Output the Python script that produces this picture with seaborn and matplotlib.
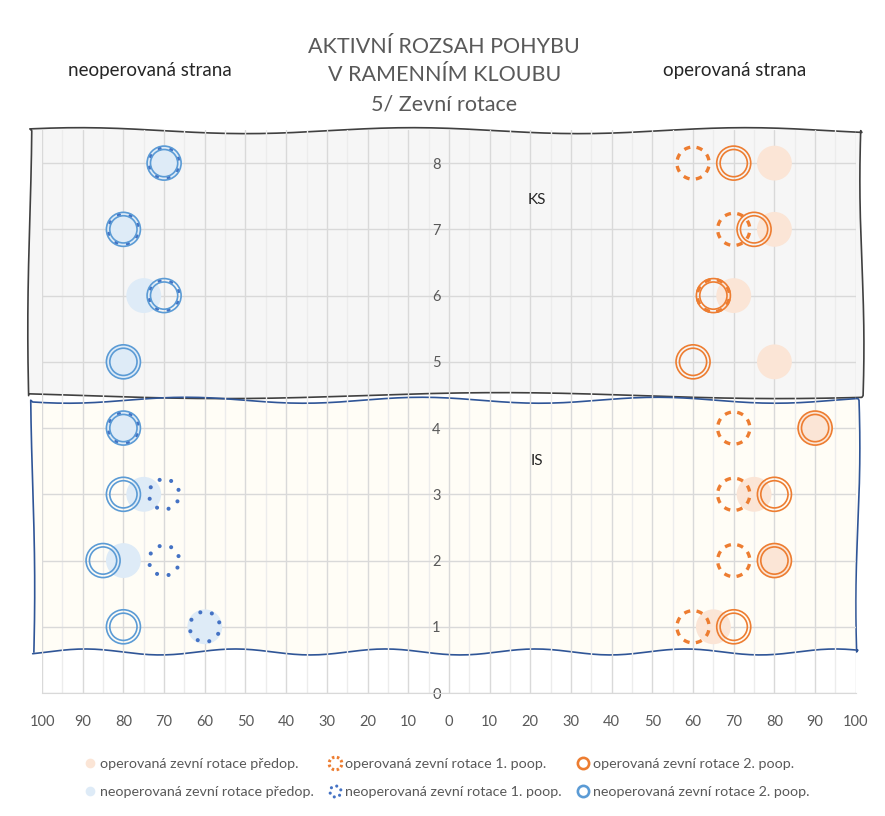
import numpy as np
import pandas as pd
import matplotlib
matplotlib.use("Agg")
import matplotlib.pyplot as plt
from matplotlib.path import Path
from matplotlib.lines import Line2D
from matplotlib.ticker import FuncFormatter, MultipleLocator
import seaborn as sns

# data: hodnoty zevní rotace (stupně), řádky 1-4 = IS, 5-8 = KS
rows = [1, 2, 3, 4, 5, 6, 7, 8]
op_pre = [65, 80, 75, 90, 80, 70, 80, 80]
op_1 = [60, 70, 70, 70, np.nan, 65, 70, 60]
op_2 = [70, 80, 80, 90, 60, 65, 75, 70]
neop_pre = [60, 80, 75, 80, 80, 75, 80, 70]
neop_1 = [60, 70, 70, 80, np.nan, 70, 80, 70]
neop_2 = [80, 85, 80, 80, 80, 70, 80, 70]

labels = {
    "op_pre": "operovaná zevní rotace předop.",
    "op_1": "operovaná zevní rotace 1. poop.",
    "op_2": "operovaná zevní rotace 2. poop.",
    "neop_pre": "neoperovaná zevní rotace předop.",
    "neop_1": "neoperovaná zevní rotace 1. poop.",
    "neop_2": "neoperovaná zevní rotace 2. poop.",
}

ORANGE = "#ed7d31"
ORANGE_LIGHT = "#fbe5d6"
BLUE = "#5b9bd5"
BLUE_DOT = "#4472c4"
BLUE_LIGHT = "#deebf7"
GREY = "#595959"

sns.set_style("white")
plt.rcParams["font.family"] = ["Lato", "DejaVu Sans"]


# custom markers
def double_ring():
    return Path.make_compound_path(Path.unit_circle(), Path.circle((0, 0), 0.8))


def dashed_ring(n=8, frac=0.5):
    step = 360.0 / n
    arcs = [Path.arc(i * step + 10, i * step + 10 + step * frac) for i in range(n)]
    return Path.make_compound_path(*arcs)


def dotted_ring(n=8, r=0.12):
    dots = [Path.circle((0.9 * np.cos(2 * np.pi * i / n + 0.3),
                         0.9 * np.sin(2 * np.pi * i / n + 0.3)), r) for i in range(n)]
    return Path.make_compound_path(*dots)


M_DOUBLE = double_ring()
M_DASH = dashed_ring()
M_DOT = dotted_ring()
M_DOT_LEG = dotted_ring(n=6, r=0.25)

df = pd.DataFrame({"row": rows, "op_pre": op_pre, "op_1": op_1, "op_2": op_2,
                   "neop_pre": [-v for v in neop_pre], "neop_1": [-v for v in neop_1],
                   "neop_2": [-v for v in neop_2]})

fig = plt.figure(figsize=(8.85, 8.16), dpi=100)
ax = fig.add_axes([0.0475, 0.1507, 0.9195, 0.69])


def wavy_panel(x0, x1, y0, y1, fc, ec, ph, ftop, fbot):
    t = np.linspace(0, 1, 200)
    top_y = y1 + 0.045 * np.sin(2 * np.pi * (ftop * t + ph))
    bot_y = y0 + 0.045 * np.sin(2 * np.pi * (fbot * t + ph + 0.3))
    xs = x0 + (x1 - x0) * t
    s = np.linspace(0, 1, 80)
    ys = y0 + (y1 - y0) * s
    right_x = x1 + 0.5 * np.sin(2 * np.pi * (0.8 * s + ph))
    left_x = x0 + 0.5 * np.sin(2 * np.pi * (0.6 * s + ph + 0.5))
    px = np.concatenate([xs, right_x, xs[::-1], left_x[::-1]])
    py = np.concatenate([bot_y, ys, top_y[::-1], ys[::-1]])
    ax.fill(px, py, facecolor=fc, edgecolor="none", zorder=0.2, clip_on=False)
    ax.plot(px, py, color=ec, lw=1.2, zorder=0.3, clip_on=False)


wavy_panel(-103, 101.5, 4.49, 8.49, "#f6f6f6", "#404040", 0.1, 2.5, 1.5)
wavy_panel(-102.3, 100.5, 0.62, 4.42, "#fffdf6", "#2f5597", 0.6, 3.5, 5.5)

# předop
sns.scatterplot(data=df, x="op_pre", y="row", marker="o", s=630, facecolor=ORANGE_LIGHT,
                edgecolor="none", linewidth=0, ax=ax, zorder=2)
sns.scatterplot(data=df, x="neop_pre", y="row", marker="o", s=630, facecolor=BLUE_LIGHT,
                edgecolor="none", linewidth=0, ax=ax, zorder=2)
# 1. poop
sns.scatterplot(data=df, x="op_1", y="row", marker=M_DASH, s=520, facecolor="none",
                edgecolor=ORANGE, linewidth=2.4, ax=ax, zorder=3)
sns.scatterplot(data=df, x="neop_1", y="row", marker=M_DOT, s=560, facecolor=BLUE_DOT,
                edgecolor="none", linewidth=0, ax=ax, zorder=3)
# 2. poop
sns.scatterplot(data=df, x="op_2", y="row", marker=M_DOUBLE, s=600, facecolor="none",
                edgecolor=ORANGE, linewidth=1.2, ax=ax, zorder=4)
sns.scatterplot(data=df, x="neop_2", y="row", marker=M_DOUBLE, s=600, facecolor="none",
                edgecolor=BLUE, linewidth=1.2, ax=ax, zorder=4)

ax.set_xlim(-100, 100)
ax.set_ylim(0, 8.5)
ax.xaxis.set_major_locator(MultipleLocator(10))
ax.xaxis.set_minor_locator(MultipleLocator(5))
ax.yaxis.set_major_locator(MultipleLocator(1))
ax.xaxis.set_major_formatter(FuncFormatter(lambda v, p: f"{abs(v):.0f}"))
ax.grid(which="major", axis="both", color="#d9d9d9", lw=1)
ax.grid(which="minor", axis="x", color="#ececec", lw=1)
ax.set_axisbelow(True)
for side in ["top", "right", "left"]:
    ax.spines[side].set_visible(False)
ax.spines["bottom"].set_color("#d9d9d9")
ax.spines["left"].set_position(("data", 0))
ax.tick_params(axis="both", which="both", length=0, colors=GREY, labelsize=10.5)
ax.tick_params(axis="x", pad=16)
ax.tick_params(axis="y", pad=6)
ax.set_xlabel("")
ax.set_ylabel("")

ax.text(21.6, 7.45, "KS", fontsize=11, color="#262626", ha="center", va="center")
ax.text(21.6, 3.5, "IS", fontsize=11, color="#262626", ha="center", va="center")

fig.text(0.502, 0.942, "AKTIVNÍ ROZSAH POHYBU", ha="center", va="center", fontsize=15.5, color=GREY)
fig.text(0.502, 0.908, "V RAMENNÍM KLOUBU", ha="center", va="center", fontsize=15.5, color=GREY)
fig.text(0.502, 0.872, "5/ Zevní rotace", ha="center", va="center", fontsize=15.5, color=GREY)
fig.text(0.1695, 0.914, "neoperovaná strana", ha="center", va="center", fontsize=13.5, color="#262626")
fig.text(0.8305, 0.914, "operovaná strana", ha="center", va="center", fontsize=13.5, color="#262626")

handles = [
    Line2D([], [], ls="none", marker="o", ms=7, mfc=ORANGE_LIGHT, mec="none"),
    Line2D([], [], ls="none", marker="o", ms=7, mfc=BLUE_LIGHT, mec="none"),
    Line2D([], [], ls="none", marker=M_DASH, ms=9, mfc="none", mec=ORANGE, mew=2.2),
    Line2D([], [], ls="none", marker=M_DOT_LEG, ms=10, mfc=BLUE_DOT, mec="none"),
    Line2D([], [], ls="none", marker=M_DOUBLE, ms=9, mfc="none", mec=ORANGE, mew=1),
    Line2D([], [], ls="none", marker=M_DOUBLE, ms=9, mfc="none", mec=BLUE, mew=1),
]
names = [labels["op_pre"], labels["neop_pre"], labels["op_1"], labels["neop_1"],
         labels["op_2"], labels["neop_2"]]
fig.legend(handles, names, loc="center", bbox_to_anchor=(0.505, 0.047), ncol=3, frameon=False,
           fontsize=10.3, labelcolor=GREY, handlelength=0.8, handletextpad=0.3,
           columnspacing=1.1, labelspacing=1.1)

fig.savefig("out.png", dpi=100)
